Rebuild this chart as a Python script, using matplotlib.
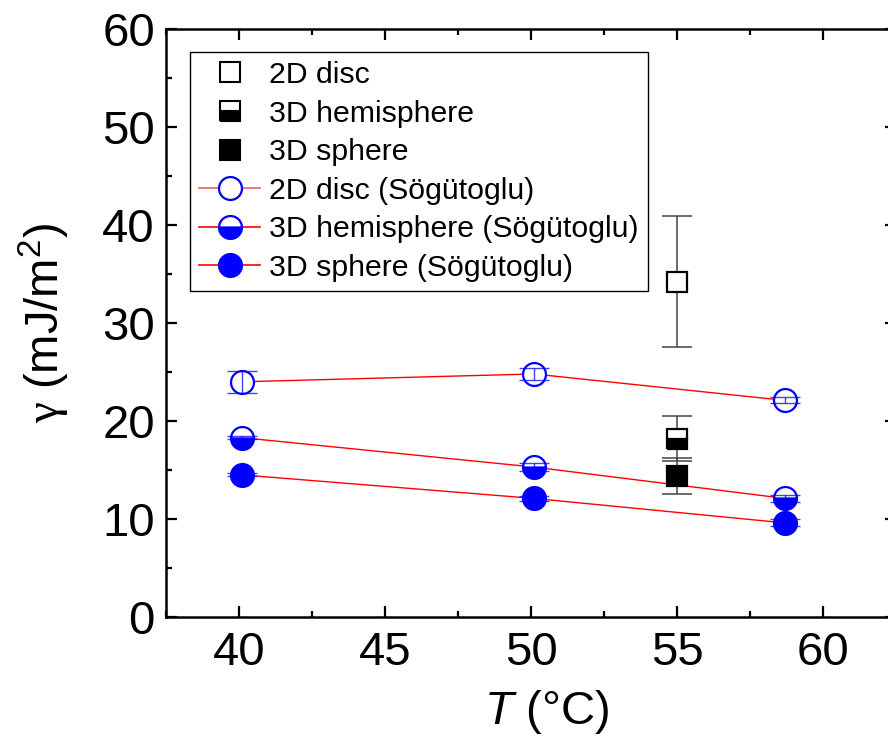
import matplotlib
matplotlib.use("Agg")
import matplotlib.pyplot as plt
from matplotlib.lines import Line2D
from matplotlib.ticker import MultipleLocator

plt.rcParams['font.family'] = ['Liberation Sans', 'DejaVu Sans']
plt.rcParams['mathtext.fontset'] = 'custom'
plt.rcParams['mathtext.rm'] = 'Liberation Sans'
plt.rcParams['mathtext.it'] = 'Liberation Sans:italic'
plt.rcParams['mathtext.sf'] = 'Liberation Serif'

# Present work (single temperature)
own_T = [55.0]
own_disc = [34.2]
own_disc_err = [6.7]
own_hemi = [18.2]
own_hemi_err = [2.3]
own_sphere = [14.4]
own_sphere_err = [1.8]

# Sögütoglu reference data
sog_T = [40.1, 50.1, 58.7]
sog_disc = [24.0, 24.8, 22.1]
sog_disc_err = [1.1, 0.65, 0.3]
sog_hemi = [18.3, 15.3, 12.1]
sog_hemi_err = [0.15, 0.45, 0.4]
sog_sphere = [14.5, 12.1, 9.6]
sog_sphere_err = [0.15, 0.25, 0.35]

x_ticks = [40, 45, 50, 55, 60]
y_ticks = [0, 10, 20, 30, 40, 50, 60]

W, H = 888, 740
fig = plt.figure(figsize=(W / 100, H / 100), dpi=100)
ax = fig.add_axes([166 / W, 1 - 617 / H, (896 - 166) / W, (617 - 29) / H])

blue = '#0000ff'
red = '#ff0000'
sq_ms = 14.5
ci_ms = 16.5

# red connecting lines for the literature series
for ys in (sog_disc, sog_hemi, sog_sphere):
    ax.plot(sog_T, ys, '-', color=red, lw=1.0, zorder=1)

# literature markers
ax.plot(sog_T, sog_disc, 'o', ms=ci_ms, mfc='white', mec=blue, mew=1.6, zorder=2)
ax.plot(sog_T, sog_hemi, 'o', ms=ci_ms, mfc=blue, mfcalt='white', fillstyle='bottom',
        mec=blue, mew=1.6, zorder=2)
ax.plot(sog_T, sog_sphere, 'o', ms=ci_ms, mfc=blue, mec=blue, mew=1.6, zorder=2)

# own markers
ax.plot(own_T, own_disc, 's', ms=sq_ms, mfc='white', mec='black', mew=1.6, zorder=2)
ax.plot(own_T, own_hemi, 's', ms=sq_ms, mfc='black', mfcalt='white', fillstyle='bottom',
        mec='black', mew=1.6, zorder=2)
ax.plot(own_T, own_sphere, 's', ms=sq_ms, mfc='black', mec='black', mew=1.6, zorder=2)

# error bars on top of the markers
for ys, es in ((sog_disc, sog_disc_err), (sog_hemi, sog_hemi_err), (sog_sphere, sog_sphere_err)):
    ax.errorbar(sog_T, ys, yerr=es, fmt='none', ecolor=blue, elinewidth=1.0,
                capsize=10.5, capthick=1.0, alpha=0.75, zorder=3)
for ys, es in ((own_disc, own_disc_err), (own_hemi, own_hemi_err), (own_sphere, own_sphere_err)):
    ax.errorbar(own_T, ys, yerr=es, fmt='none', ecolor='#444444', elinewidth=1.1,
                capsize=10.5, capthick=1.1, zorder=1.5)

ax.set_xlim(37.5, 62.5)
ax.set_ylim(0, 60)
ax.set_xticks(x_ticks)
ax.set_yticks(y_ticks)
ax.xaxis.set_minor_locator(MultipleLocator(2.5))
ax.yaxis.set_minor_locator(MultipleLocator(5))
ax.tick_params(which='both', direction='in', top=True, right=True, width=1.6,
               labelsize=34)
ax.tick_params(axis='x', pad=10)
ax.tick_params(axis='y', pad=8)
ax.tick_params(which='major', length=8)
ax.tick_params(which='minor', length=4.5)
for sp in ax.spines.values():
    sp.set_linewidth(1.8)

ax.set_xlabel(r'$T$ (°C)', fontsize=34)
ax.set_ylabel(r'$\mathsf{\gamma}$ (mJ/m$^2$)', fontsize=34)
ax.xaxis.set_label_coords((547 - 166) / 730, -(736 - 617) / 588)
ax.xaxis.label.set_va('bottom')
ax.yaxis.set_label_coords(-(166 - 17) / 730, 0.5)
ax.yaxis.label.set_va('top')

handles = [
    Line2D([], [], ls='none', marker='s', ms=14, mfc='white', mec='black', mew=1.5),
    Line2D([], [], ls='none', marker='s', ms=14, mfc='black', mfcalt='white',
           fillstyle='bottom', mec='black', mew=1.5),
    Line2D([], [], ls='none', marker='s', ms=14, mfc='black', mec='black', mew=1.5),
    Line2D([], [], ls='-', color='#f06060', lw=1.2, marker='o', ms=16.5, mfc='white',
           mec=blue, mew=1.6),
    Line2D([], [], ls='-', color=red, lw=1.2, marker='o', ms=16.5, mfc=blue,
           mfcalt='white', fillstyle='bottom', mec=blue, mew=1.6),
    Line2D([], [], ls='-', color=red, lw=1.2, marker='o', ms=16.5, mfc=blue, mec=blue, mew=1.6),
]
labels = ['2D disc', '3D hemisphere', '3D sphere', '2D disc (Sögütoglu)',
          '3D hemisphere (Sögütoglu)', '3D sphere (Sögütoglu)']
leg = ax.legend(handles, labels, loc='upper left', bbox_to_anchor=(0.033, 0.961),
                borderaxespad=0, fontsize=21.8, frameon=True, fancybox=False,
                edgecolor='black', handlelength=2.02, handletextpad=0.3,
                labelspacing=0.35, borderpad=0.3, framealpha=1)
leg.get_frame().set_linewidth(1.0)

fig.savefig('out.png', dpi=100)
